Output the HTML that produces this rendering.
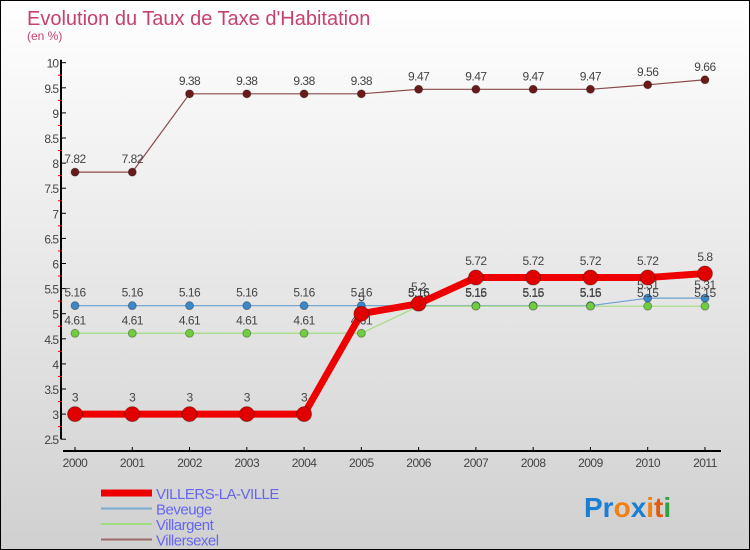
<!DOCTYPE html>
<html><head><meta charset="utf-8"><style>
body{margin:0}
#c{width:750px;height:550px;position:relative;box-sizing:border-box;border:1px solid #000;background:linear-gradient(#fff,#d0d0d0);font-family:"Liberation Sans",sans-serif;overflow:hidden}
</style></head><body>
<div id="c">
<svg id="s" width="748" height="548">
<text x="26" y="24" font-size="20" fill="#c8406e">Evolution du Taux de Taxe d'Habitation</text>
<text x="26" y="39" font-size="12" fill="#c8406e">(en %)</text>
<g id="axes"></g><g id="series"></g>
<text x="583" y="516" font-size="28" font-weight="bold"><tspan fill="#1a7fd4">Pr</tspan><tspan fill="#f08010">o</tspan><tspan fill="#1a7fd4">x</tspan><tspan fill="#f08010">i</tspan><tspan fill="#e05a10">t</tspan><tspan fill="#30a040">i</tspan></text>
</svg></div>
<script>
const years=["2000","2001","2002","2003","2004","2005","2006","2007","2008","2009","2010","2011"];
const yTicks=[2.5,3,3.5,4,4.5,5,5.5,6,6.5,7,7.5,8,8.5,9,9.5,10];
const villers=[3,3,3,3,3,5,5.2,5.72,5.72,5.72,5.72,5.8];
const beveuge=[5.16,5.16,5.16,5.16,5.16,5.16,5.16,5.16,5.16,5.16,5.31,5.31];
const villargent=[4.61,4.61,4.61,4.61,4.61,4.61,5.15,5.15,5.15,5.15,5.15,5.15];
const villersexel=[7.82,7.82,9.38,9.38,9.38,9.38,9.47,9.47,9.47,9.47,9.56,9.66];
const NS="http://www.w3.org/2000/svg";
const xs=i=>74+i*57.27, ys=v=>312.7-(v-5)*50.2;
function mk(t,a,p){const e=document.createElementNS(NS,t);for(const k in a)e.setAttribute(k,a[k]);p.appendChild(e);return e;}
const ax=document.getElementById('axes'),sg=document.getElementById('series');
let l=mk('line',{x1:60,y1:ys(10)-3,x2:60,y2:ys(2.5),stroke:'#000','stroke-width':2},ax);


yTicks.forEach(v=>{
 mk('line',{x1:60,y1:ys(v),x2:65,y2:ys(v),stroke:'#000'},ax);
 if(v<10)mk('line',{x1:57,y1:ys(v+0.25),x2:61,y2:ys(v+0.25),stroke:'#e00'},ax);
 const t=mk('text',{x:57,y:ys(v)+5,'text-anchor':'end','font-size':12,fill:'#444','letter-spacing':'-1'},ax);
 t.textContent=v;
 
 
});
l=mk('line',{x1:62,y1:450,x2:720,y2:450,stroke:'#000','stroke-width':2},ax);


years.forEach((y,i)=>{
 mk('line',{x1:xs(i),y1:446,x2:xs(i),y2:450,stroke:'#000'},ax);
 const t=mk('text',{x:xs(i),y:466,'text-anchor':'middle','font-size':12,fill:'#444','letter-spacing':'-0.5'},ax);
 t.textContent=y;
 
 
});
function series(d,col,dot,w,r,name){
 const g=mk('g',{},sg);
 
 
 mk('polyline',{points:d.map((v,i)=>xs(i)+','+ys(v)).join(' '),fill:'none',stroke:col,'stroke-width':w},g);
 d.forEach((v,i)=>{
  const c=mk('circle',{cx:xs(i),cy:ys(v),r:r,fill:dot,stroke:'rgba(0,0,0,0.3)'},g);
  
  
  const t=mk('text',{x:xs(i),y:ys(v)-r-5,'text-anchor':'middle','font-size':12,fill:'#444','letter-spacing':'-0.5'},g);
  t.textContent=v;
  
  
 });
}
series(villersexel,'#8b4a4a','#6b1a1a',1.2,4,'villersexel');
series(beveuge,'#6aa0d0','#3a88c8',1.2,4,'beveuge');
series(villargent,'#a0dc80','#70cc40',1.2,4,'villargent');
series(villers,'#ee0000','#e00000',7,7.5,'villers-la-ville');
const leg=[["VILLERS-LA-VILLE","#ee0000",7],["Beveuge","#7aaad0",2],["Villargent","#a0dc80",2],["Villersexel","#9b6a6a",2]];
leg.forEach((e,i)=>{
 const y=492+i*15.5;
 const g=mk('g',{},sg);
 
 
 mk('line',{x1:100,y1:y,x2:151,y2:y,stroke:e[1],'stroke-width':e[2]},g);
 const t=mk('text',{x:155,y:y+6,'font-size':15,fill:'#6666f0','letter-spacing':'-0.5'},g);
 t.textContent=e[0];
});
</script>
</body></html>
